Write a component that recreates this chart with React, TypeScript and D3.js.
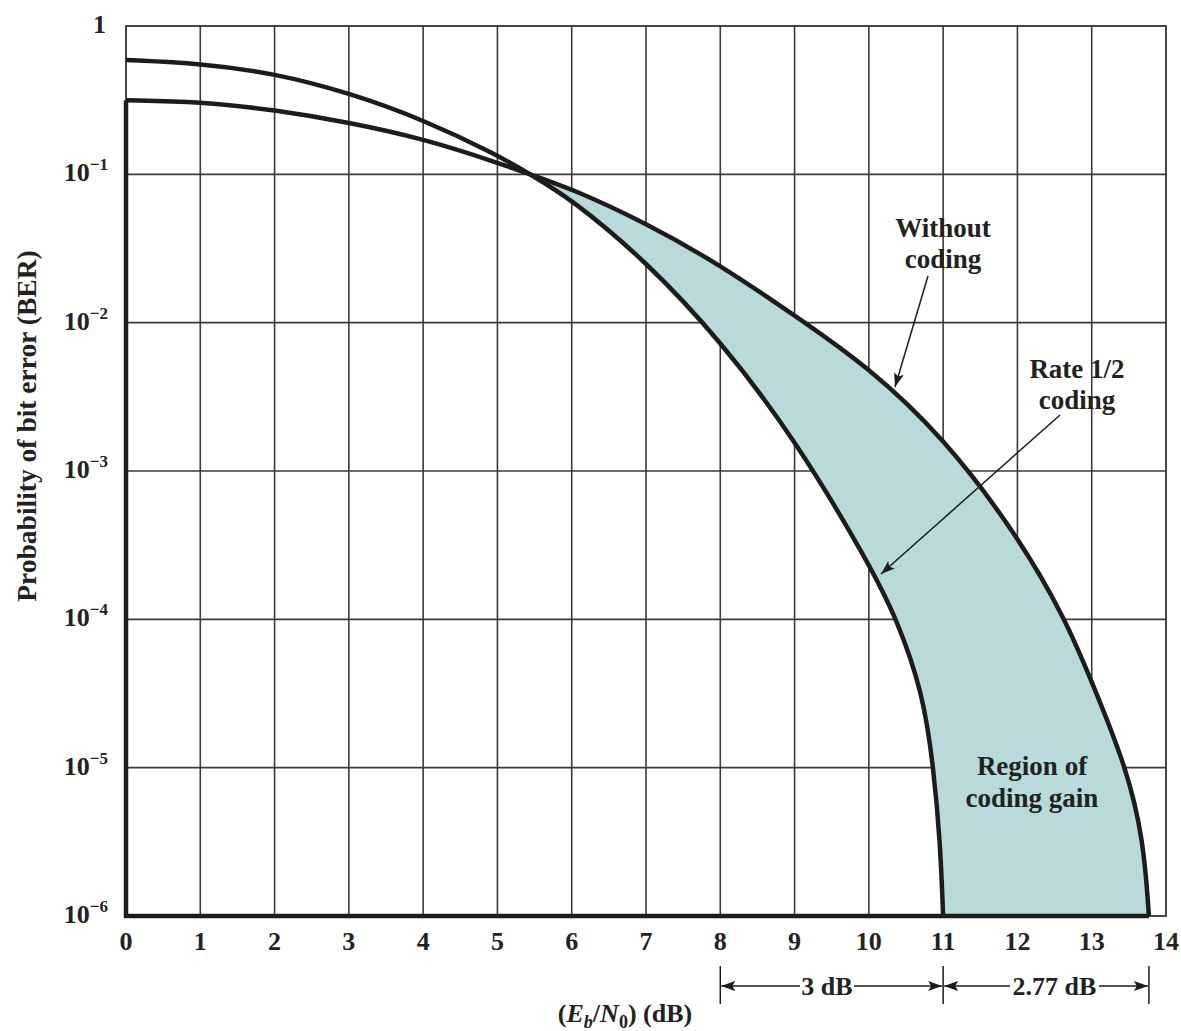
import React from "react";
import * as d3 from "d3";

// Eb/N0 (dB) and bit error probability
const uncodedDb = [0, 1, 2, 3, 4, 5, 5.44, 6, 7, 8, 9, 10, 11, 12, 12.65, 13, 13.47, 13.7, 13.77];
const uncodedBer = [0.316, 0.309, 0.272, 0.224, 0.174, 0.12, 0.1, 0.08, 0.047, 0.0245, 0.0112, 5.0e-3, 1.7e-3, 3.7e-4, 1e-4, 3.8e-5, 1e-5, 3.2e-6, 1e-6];

const codedDb = [0, 1, 2, 3, 4, 5, 5.44, 6, 7, 8, 9, 10, 10.38, 10.73, 10.87, 10.96, 11];
const codedBer = [0.59, 0.56, 0.48, 0.355, 0.234, 0.135, 0.1, 0.068, 0.026, 7.6e-3, 1.66e-3, 2.4e-4, 1e-4, 3.16e-5, 1e-5, 3.2e-6, 1e-6];

const xTicks = [0, 1, 2, 3, 4, 5, 6, 7, 8, 9, 10, 11, 12, 13, 14];
const yExponents = [0, -1, -2, -3, -4, -5, -6];

const crossDb = 5.44;
const gain1 = [8, 11]; // 3 dB
const gain2 = [11, 13.77]; // 2.77 dB

const W = 1181;
const H = 1031;
const FONT = "'Liberation Serif', 'DejaVu Serif', serif";
const INK = "#1c1c1c";

export default function App() {
  const x = d3.scaleLinear().domain([0, 14]).range([126, 1166]);
  const y = d3.scaleLog().domain([1e-6, 1]).range([916, 26]);

  type P = [number, number];
  const uncoded: P[] = uncodedDb.map((d, i) => [d, uncodedBer[i]]);
  const coded: P[] = codedDb.map((d, i) => [d, codedBer[i]]);

  const line = d3
    .line<P>()
    .x((d) => x(d[0]))
    .y((d) => y(d[1]))
    .curve(d3.curveBasis);

  // shaded region between the curves, clipped to the right of the crossing
  const regionPath =
    (line(coded) as string) + "L" + (line(uncoded.slice().reverse()) as string).slice(1) + "Z";

  const yBottom = y(1e-6);
  const dimY = 986;

  return (
    <svg
      width={W}
      height={H}
      style={{ position: "absolute", left: 0, top: 0, background: "#fff" }}
      fontFamily={FONT}
      fontWeight="bold"
    >
      <defs>
        <marker
          id="ah"
          viewBox="0 0 14 10"
          refX={14}
          refY={5}
          markerWidth={14}
          markerHeight={10}
          markerUnits="userSpaceOnUse"
          orient="auto"
        >
          <path d="M0,0 L14,5 L0,10 L3,5 Z" fill={INK} />
        </marker>
        <clipPath id="gainClip">
          <rect x={x(crossDb)} y={y(1)} width={x(14) - x(crossDb)} height={yBottom - y(1)} />
        </clipPath>
      </defs>

      {/* grid */}
      <g stroke="#3a3a3a" strokeWidth={1.6}>
        {xTicks.slice(1, -1).map((t) => (
          <line key={"vx" + t} x1={x(t)} x2={x(t)} y1={y(1)} y2={yBottom} />
        ))}
        {yExponents.slice(1, -1).map((e) => (
          <line key={"hy" + e} x1={x(0)} x2={x(14)} y1={y(Math.pow(10, e))} y2={y(Math.pow(10, e))} />
        ))}
      </g>

      <path d={regionPath} fill="#b9d9da" stroke="none" clipPath="url(#gainClip)" />

      {/* frame */}
      <rect x={x(0)} y={y(1)} width={x(14) - x(0)} height={yBottom - y(1)} fill="none" stroke="#333" strokeWidth={1.8} />

      {/* curves */}
      <g fill="none" stroke={INK} strokeWidth={4.5} strokeLinejoin="round">
        <path d={line(uncoded) as string} />
        <path d={line(coded) as string} />
        <line x1={x(0)} x2={x(0)} y1={y(uncodedBer[0])} y2={yBottom + 2} />
        <line x1={x(0) - 2} x2={x(13.77)} y1={yBottom} y2={yBottom} />
      </g>

      {/* x tick labels */}
      <g fontSize={26} fill="#222" textAnchor="middle">
        {xTicks.map((t) => (
          <text key={"xt" + t} x={x(t)} y={950}>
            {t}
          </text>
        ))}
      </g>

      {/* y tick labels */}
      <g fontSize={26} fill="#222" textAnchor="end">
        {yExponents.map((e) =>
          e === 0 ? (
            <text key="yt0" x={106} y={y(1) + 7}>
              1
            </text>
          ) : (
            <text key={"yt" + e} x={108} y={y(Math.pow(10, e)) + 7}>
              10
              <tspan fontSize={17} dy={-11}>
                {"\u2212" + Math.abs(e)}
              </tspan>
            </text>
          )
        )}
      </g>

      {/* axis titles */}
      <text
        transform={`translate(36, ${(y(1) + yBottom) / 2 - 45}) rotate(-90)`}
        textAnchor="middle"
        fontSize={27.5}
        fill="#222"
      >
        Probability of bit error (BER)
      </text>
      <text x={625} y={1022} textAnchor="middle" fontSize={26} fill="#222">
        (<tspan fontStyle="italic">E</tspan>
        <tspan fontStyle="italic" fontSize={18} dy={6}>b</tspan>
        <tspan dy={-6}>/</tspan>
        <tspan fontStyle="italic">N</tspan>
        <tspan fontSize={18} dy={6}>0</tspan>
        <tspan dy={-6}>) (dB)</tspan>
      </text>

      {/* annotations */}
      <g fontSize={27} fill="#222" textAnchor="middle">
        <text x={943} y={237}>Without</text>
        <text x={943} y={268}>coding</text>
        <text x={1077} y={378}>Rate 1/2</text>
        <text x={1077} y={409}>coding</text>
        <text x={1032} y={775}>Region of</text>
        <text x={1032} y={807}>coding gain</text>
      </g>
      <g stroke={INK} strokeWidth={1.5} fill="none">
        <line x1={928} y1={276} x2={895} y2={387} markerEnd="url(#ah)" />
        <line x1={1060} y1={415} x2={881} y2={574} markerEnd="url(#ah)" />
      </g>

      {/* coding gain dimensions */}
      <g stroke={INK} strokeWidth={1.5}>
        {[gain1[0], gain1[1], gain2[1]].map((d) => (
          <line key={"dt" + d} x1={x(d)} x2={x(d)} y1={966} y2={1004} />
        ))}
        <line x1={800} y1={dimY} x2={x(gain1[0]) + 1} y2={dimY} markerEnd="url(#ah)" />
        <line x1={854} y1={dimY} x2={x(gain1[1]) - 1} y2={dimY} markerEnd="url(#ah)" />
        <line x1={1010} y1={dimY} x2={x(gain2[0]) + 1} y2={dimY} markerEnd="url(#ah)" />
        <line x1={1099} y1={dimY} x2={x(gain2[1]) - 1} y2={dimY} markerEnd="url(#ah)" />
      </g>
      <g fontSize={26} fill="#222" textAnchor="middle">
        <text x={(800 + 854) / 2} y={dimY + 9}>
          {gain1[1] - gain1[0]} dB
        </text>
        <text x={(1010 + 1099) / 2} y={dimY + 9}>
          {(gain2[1] - gain2[0]).toFixed(2)} dB
        </text>
      </g>
    </svg>
  );
}
